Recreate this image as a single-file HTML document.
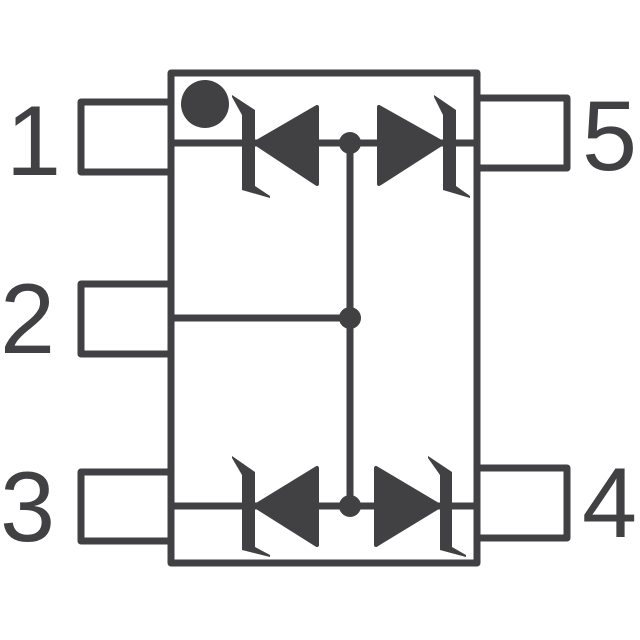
<!DOCTYPE html>
<html><head><meta charset="utf-8"><style>html,body{margin:0;padding:0;background:#fff}svg{display:block}</style></head>
<body>
<svg width="640" height="640" viewBox="0 0 640 640" xmlns="http://www.w3.org/2000/svg">
<g fill="none" stroke="#414042" stroke-width="7" stroke-linejoin="round">
  <rect x="171" y="73" width="306" height="490"/>
  <rect x="81" y="102" width="90" height="70"/>
  <rect x="81" y="284" width="90" height="70"/>
  <rect x="81" y="472" width="90" height="69"/>
  <rect x="477" y="98" width="90" height="70"/>
  <rect x="477" y="468" width="90" height="70"/>
  <line x1="171" y1="143" x2="477" y2="143"/>
  <line x1="171" y1="506" x2="477" y2="506"/>
  <line x1="171" y1="318" x2="350" y2="318"/>
  <line x1="350" y1="143" x2="350" y2="506"/>
</g>
<g fill="#414042">
  <circle cx="205" cy="104" r="24"/>
  <circle cx="350" cy="143" r="11"/>
  <circle cx="350" cy="318" r="11"/>
  <circle cx="350" cy="506" r="11"/>
  <polygon points="255,143 317,107 317,184" stroke="#414042" stroke-width="4" stroke-linejoin="round"/>
  <polygon points="232,95 255,110 255,186 270,196 270,198 242,190 242,115 232,97"/>
  <polygon points="443,143 379,107 379,184" stroke="#414042" stroke-width="4" stroke-linejoin="round"/>
  <polygon points="434,95 456,110 456,186 470,196 470,198 443,190 443,115 434,97"/>
  <polygon points="255,506 317,468 317,545" stroke="#414042" stroke-width="4" stroke-linejoin="round"/>
  <polygon points="232,456 255,472 255,547 270,555 270,557 242,550 242,475 232,458"/>
  <polygon points="440,506 376,468 376,545" stroke="#414042" stroke-width="4" stroke-linejoin="round"/>
  <polygon points="428,456 452,472 452,547 466,555 466,557 440,550 440,475 428,458"/>
</g>
<g fill="#414042" font-family="Liberation Sans, Arial, sans-serif" font-size="99">
  <text x="6" y="175">1</text>
  <text x="0" y="353">2</text>
  <text x="0" y="541">3</text>
  <text x="582" y="170">5</text>
  <text x="582" y="537">4</text>
</g>
</svg>
</body></html>
